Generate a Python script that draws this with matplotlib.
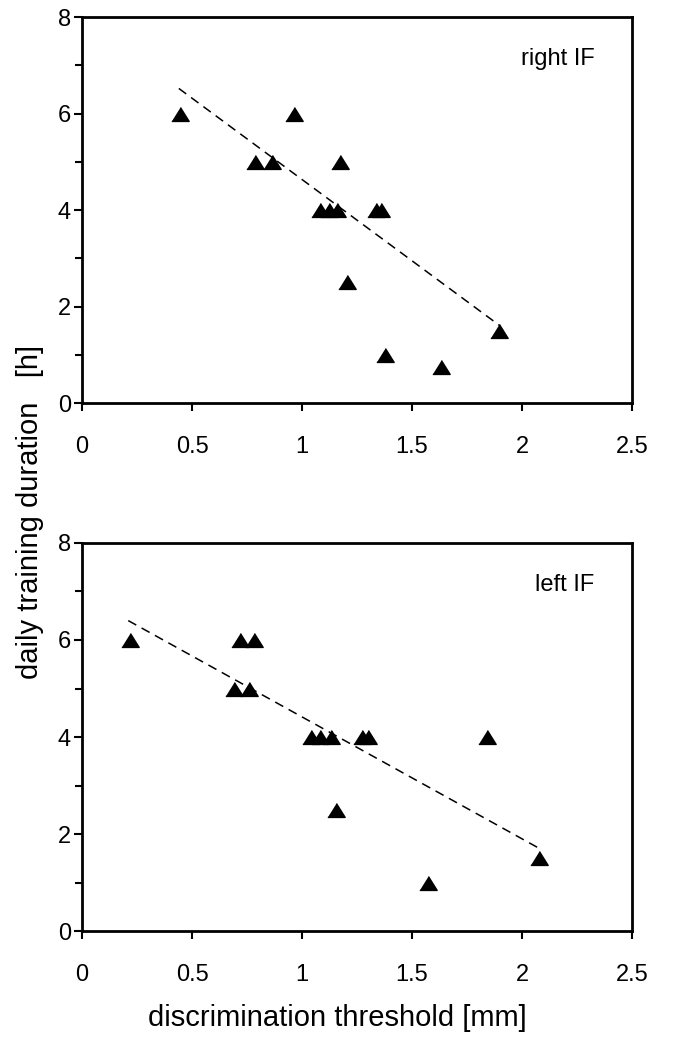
import matplotlib
matplotlib.use('Agg')
import matplotlib.pyplot as plt
import numpy as np

plt.rcParams['font.family'] = ['Liberation Sans', 'DejaVu Sans']

# right index finger
right_x = [0.444, 0.786, 0.865, 0.962, 1.171, 1.084, 1.122, 1.160, 1.336, 1.357, 1.204, 1.378, 1.630, 1.896]
right_y = [6, 5, 5, 6, 5, 4, 4, 4, 4, 4, 2.5, 1.0, 0.75, 1.5]
right_fit_x = [0.44, 1.90]
right_fit_y = [6.52, 1.60]

# left index finger
left_x = [0.217, 0.717, 0.783, 0.692, 0.757, 1.039, 1.084, 1.131, 1.273, 1.301, 1.839, 1.153, 1.574, 2.077]
left_y = [6, 6, 6, 5, 5, 4, 4, 4, 4, 4, 4, 2.5, 1.0, 1.5]
left_fit_x = [0.21, 2.08]
left_fit_y = [6.40, 1.70]

x_ticks = [0, 0.5, 1, 1.5, 2, 2.5]
x_ticklabels = ['0', '0.5', '1', '1.5', '2', '2.5']
y_ticks = [0, 2, 4, 6, 8]
y_minor = [1, 3, 5, 7]

tri = [(-1, -0.8), (1, -0.8), (0, 0.8)]

fig = plt.figure(figsize=(6.74, 10.39), dpi=100)
ax1 = fig.add_axes([0.1217, 0.6121, 0.816, 0.3715])
ax2 = fig.add_axes([0.1217, 0.1039, 0.816, 0.3735])

panels = [(ax1, right_x, right_y, right_fit_x, right_fit_y, 'right IF'),
          (ax2, left_x, left_y, left_fit_x, left_fit_y, 'left IF')]

for ax, xs, ys, fx, fy, name in panels:
    ax.plot(fx, fy, color='black', lw=1.1, dashes=(6, 4))
    ax.plot(xs, ys, linestyle='none', marker=tri, ms=12.5, color='black')
    ax.set_xlim(0, 2.5)
    ax.set_ylim(0, 8)
    ax.set_xticks(x_ticks)
    ax.set_xticklabels(x_ticklabels)
    ax.set_yticks(y_ticks)
    ax.set_yticks(y_minor, minor=True)
    ax.tick_params(axis='both', which='major', direction='out', length=6, width=1.5, labelsize=17)
    ax.tick_params(axis='x', pad=18)
    ax.tick_params(axis='y', pad=2)
    ax.tick_params(axis='y', which='minor', direction='out', length=5, width=1.5)
    ax.tick_params(top=False, right=False)
    for sp in ax.spines.values():
        sp.set_linewidth(2)
    ax.text(2.33, 7.13, name, ha='right', va='center', fontsize=17)

fig.text(337 / 674, 1 - 1018 / 1039, 'discrimination threshold [mm]', ha='center', va='center', fontsize=21)
fig.text(30 / 674, 1 - 512 / 1039, 'daily training duration   [h]', ha='center', va='center',
         rotation=90, fontsize=21)

fig.savefig('out.png', dpi=100)
